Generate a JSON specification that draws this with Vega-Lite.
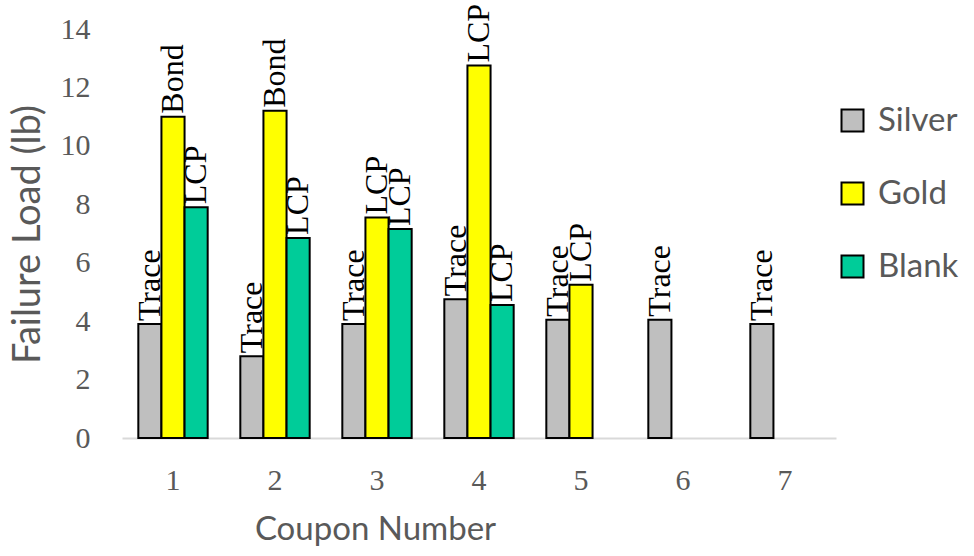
{
  "$schema": "https://vega.github.io/schema/vega-lite/v6.json",
  "autosize": {"type": "none"},
  "width": 714,
  "height": 409,
  "padding": {"left": 122, "top": 29, "right": 138, "bottom": 118},
  "background": "white",
  "config": {"view": {"stroke": null}},
  "data": {
    "values": [
      {"coupon": "1", "type": "Silver", "load": 3.9, "mode": "Trace"},
      {"coupon": "1", "type": "Gold", "load": 11.0, "mode": "Bond"},
      {"coupon": "1", "type": "Blank", "load": 7.9, "mode": "LCP"},
      {"coupon": "2", "type": "Silver", "load": 2.8, "mode": "Trace"},
      {"coupon": "2", "type": "Gold", "load": 11.2, "mode": "Bond"},
      {"coupon": "2", "type": "Blank", "load": 6.85, "mode": "LCP"},
      {"coupon": "3", "type": "Silver", "load": 3.9, "mode": "Trace"},
      {"coupon": "3", "type": "Gold", "load": 7.55, "mode": "LCP"},
      {"coupon": "3", "type": "Blank", "load": 7.15, "mode": "LCP"},
      {"coupon": "4", "type": "Silver", "load": 4.75, "mode": "Trace"},
      {"coupon": "4", "type": "Gold", "load": 12.75, "mode": "LCP"},
      {"coupon": "4", "type": "Blank", "load": 4.55, "mode": "LCP"},
      {"coupon": "5", "type": "Silver", "load": 4.05, "mode": "Trace"},
      {"coupon": "5", "type": "Gold", "load": 5.25, "mode": "LCP"},
      {"coupon": "6", "type": "Silver", "load": 4.05, "mode": "Trace"},
      {"coupon": "7", "type": "Silver", "load": 3.9, "mode": "Trace"}
    ]
  },
  "encoding": {
    "x": {
      "field": "coupon",
      "type": "ordinal",
      "scale": {"domain": ["1","2","3","4","5","6","7"], "paddingInner": 0.32, "paddingOuter": 0.16},
      "axis": {
        "title": "Coupon Number",
        "titleFont": "Lato",
        "titleFontSize": 33,
        "titleFontWeight": "normal",
        "titleColor": "#595959",
        "titleX": 253,
        "titleY": 91,
        "titleBaseline": "middle",
        "titleAlign": "center",
        "labelAngle": 0,
        "labelFont": "Liberation Serif",
        "labelFontSize": 30,
        "labelColor": "#595959",
        "labelPadding": 27,
        "ticks": false,
        "tickSize": 0,
        "domainColor": "#d9d9d9",
        "domainWidth": 2,
        "grid": false
      }
    },
    "xOffset": {"field": "type", "type": "nominal", "scale": {"domain": ["Silver", "Gold", "Blank"]}},
    "y": {
      "field": "load",
      "type": "quantitative",
      "scale": {"domain": [0, 14]},
      "axis": {
        "title": "Failure Load (lb)",
        "titleFont": "Lato",
        "titleFontSize": 38,
        "titleFontWeight": "normal",
        "titleColor": "#595959",
        "titleAngle": 270,
        "titleX": -94,
        "titleY": 205,
        "titleBaseline": "middle",
        "titleAlign": "center",
        "values": [0, 2, 4, 6, 8, 10, 12, 14],
        "labelFont": "Liberation Serif",
        "labelFontSize": 30,
        "labelColor": "#595959",
        "labelPadding": 32,
        "ticks": false,
        "tickSize": 0,
        "domain": false,
        "grid": false
      }
    }
  },
  "layer": [
    {
      "mark": {"type": "bar", "stroke": "black", "strokeWidth": 2},
      "encoding": {
        "fill": {
          "field": "type",
          "type": "nominal",
          "scale": {"domain": ["Silver", "Gold", "Blank"], "range": ["#bfbfbf", "#ffff00", "#00cc99"]},
          "legend": {
            "title": null,
            "orient": "none",
            "legendX": 714,
            "legendY": 75,
            "padding": 0,
            "symbolType": "square",
            "symbolSize": 484,
            "symbolStrokeColor": "black",
            "symbolStrokeWidth": 2,
            "symbolOpacity": 1,
            "labelFont": "Lato",
            "labelFontSize": 33,
            "labelColor": "#595959",
            "labelOffset": 9,
            "rowPadding": 39,
            "labelLimit": 200
          }
        }
      }
    },
    {
      "mark": {"type": "text", "angle": 270, "align": "left", "baseline": "middle", "dx": 3, "font": "Liberation Serif", "fontSize": 32, "color": "black"},
      "encoding": {"text": {"field": "mode"}}
    }
  ]
}
